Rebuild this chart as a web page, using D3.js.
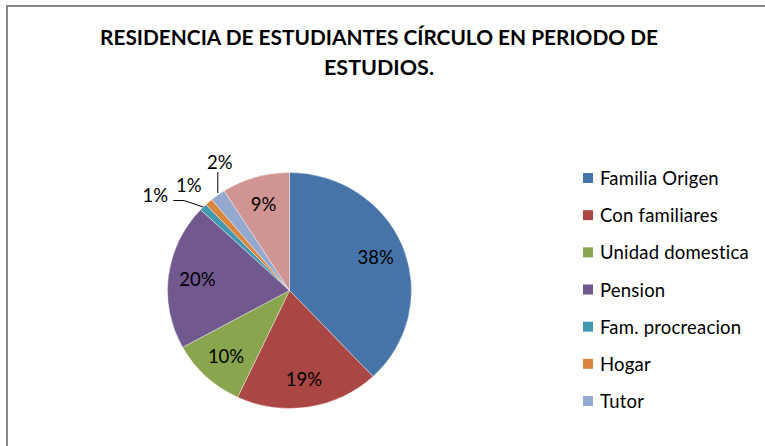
<!DOCTYPE html>
<html>
<head>
<meta charset="utf-8">
<script src="https://cdn.jsdelivr.net/npm/d3@7/dist/d3.min.js"></script>
<style>
  html, body { margin: 0; padding: 0; background: #fff; }
  svg { display: block; }
  text { font-family: Lato, "Open Sans", "DejaVu Sans", sans-serif; fill: #000; }
</style>
</head>
<body>
<svg id="chart" width="765" height="446"></svg>
<script>
// Residence of students during their study period (percent of students)
const categories = [
  "Familia Origen", "Con familiares", "Unidad domestica", "Pension",
  "Fam. procreacion", "Hogar", "Tutor", "Otros"
];
const values = [38, 19, 10, 20, 1, 1, 2, 9];
const colors = [
  "#4674A9", "#AA4643", "#89A54E", "#71588F",
  "#4198AF", "#DB843D", "#93A9CF", "#D09492"
];
// Only the first seven entries appear in the legend
const legendCount = 7;
const titleLines = ["RESIDENCIA DE ESTUDIANTES CÍRCULO EN PERIODO DE", "ESTUDIOS."];

const svg = d3.select("#chart");

// chart-area frame (runs past the right and bottom edges)
svg.append("rect")
  .attr("x", 7).attr("y", 6)
  .attr("width", 820).attr("height", 500)
  .attr("fill", "#fff")
  .attr("stroke", "#878787")
  .attr("stroke-width", 2);

// title
const titleSpecs = [
  { y: 45, width: 558 },
  { y: 75, width: 110 }
];
titleLines.forEach((t, i) => {
  svg.append("text")
    .attr("x", 379)
    .attr("y", titleSpecs[i].y)
    .attr("text-anchor", "middle")
    .attr("font-size", 20.5)
    .attr("font-weight", "bold")
    .attr("textLength", titleSpecs[i].width)
    .attr("lengthAdjust", "spacingAndGlyphs")
    .text(t);
});

// pie
const cx = 289.5, cy = 290.5, rx = 122, ry = 118;
const data = categories.map((c, i) => ({ name: c, value: values[i], color: colors[i] }));
const pie = d3.pie().value(d => d.value).sort(null);
const arcs = pie(data);
const arc = d3.arc().innerRadius(0).outerRadius(rx);

const g = svg.append("g")
  .attr("transform", `translate(${cx},${cy}) scale(1,${ry / rx})`);

g.selectAll("path")
  .data(arcs)
  .join("path")
  .attr("d", arc)
  .attr("fill", d => d.data.color)
  .attr("stroke", "#fff")
  .attr("stroke-width", 0.4);

// point on the (elliptical) pie at angle a and radial fraction k
function polar(a, k) {
  return [cx + rx * k * Math.sin(a), cy - ry * k * Math.cos(a)];
}

// inside labels for the large slices, leader-line labels for the thin ones
const outside = {
  4: { dx: -48, dy: -12, leader: [[-19, -6.5], [-30, -6.5]] },
  5: { dx: -20, dy: -17, leader: null },
  6: { dx: 2, dy: -33, leader: [[0, -2], [0, -23]] }
};
const labelSize = 18.5;

arcs.forEach((d, i) => {
  const mid = (d.startAngle + d.endAngle) / 2;
  const label = d3.format(".0f")(d.data.value) + "%";
  if (outside[i]) {
    const o = outside[i];
    const [ex, ey] = polar(mid, 1);
    if (o.leader) {
      const pts = [[ex, ey]].concat(o.leader.map(p => [ex + p[0], ey + p[1]]));
      if (i === 6) pts.shift();
      svg.append("path")
        .attr("d", d3.line()(pts))
        .attr("fill", "none")
        .attr("stroke", "#000")
        .attr("stroke-width", 1);
    }
    svg.append("text")
      .attr("x", ex + o.dx)
      .attr("y", ey + o.dy)
      .attr("text-anchor", "middle")
      .attr("dominant-baseline", "central")
      .attr("font-size", labelSize)
      .text(label);
  } else {
    const [lx, ly] = polar(mid, 0.76);
    svg.append("text")
      .attr("x", lx)
      .attr("y", ly)
      .attr("text-anchor", "middle")
      .attr("dominant-baseline", "central")
      .attr("font-size", labelSize)
      .text(label);
  }
});

// legend
const legend = svg.append("g");
const rowY = d3.scaleLinear().domain([0, legendCount - 1]).range([178, 401]);
data.slice(0, legendCount).forEach((d, i) => {
  const y = rowY(i);
  legend.append("rect")
    .attr("x", 583).attr("y", y - 5)
    .attr("width", 10).attr("height", 10)
    .attr("fill", d.color);
  legend.append("text")
    .attr("x", 600).attr("y", y)
    .attr("dominant-baseline", "central")
    .attr("font-size", 18.5)
    .attr("letter-spacing", 0.2)
    .text(d.name);
});
</script>
</body>
</html>
